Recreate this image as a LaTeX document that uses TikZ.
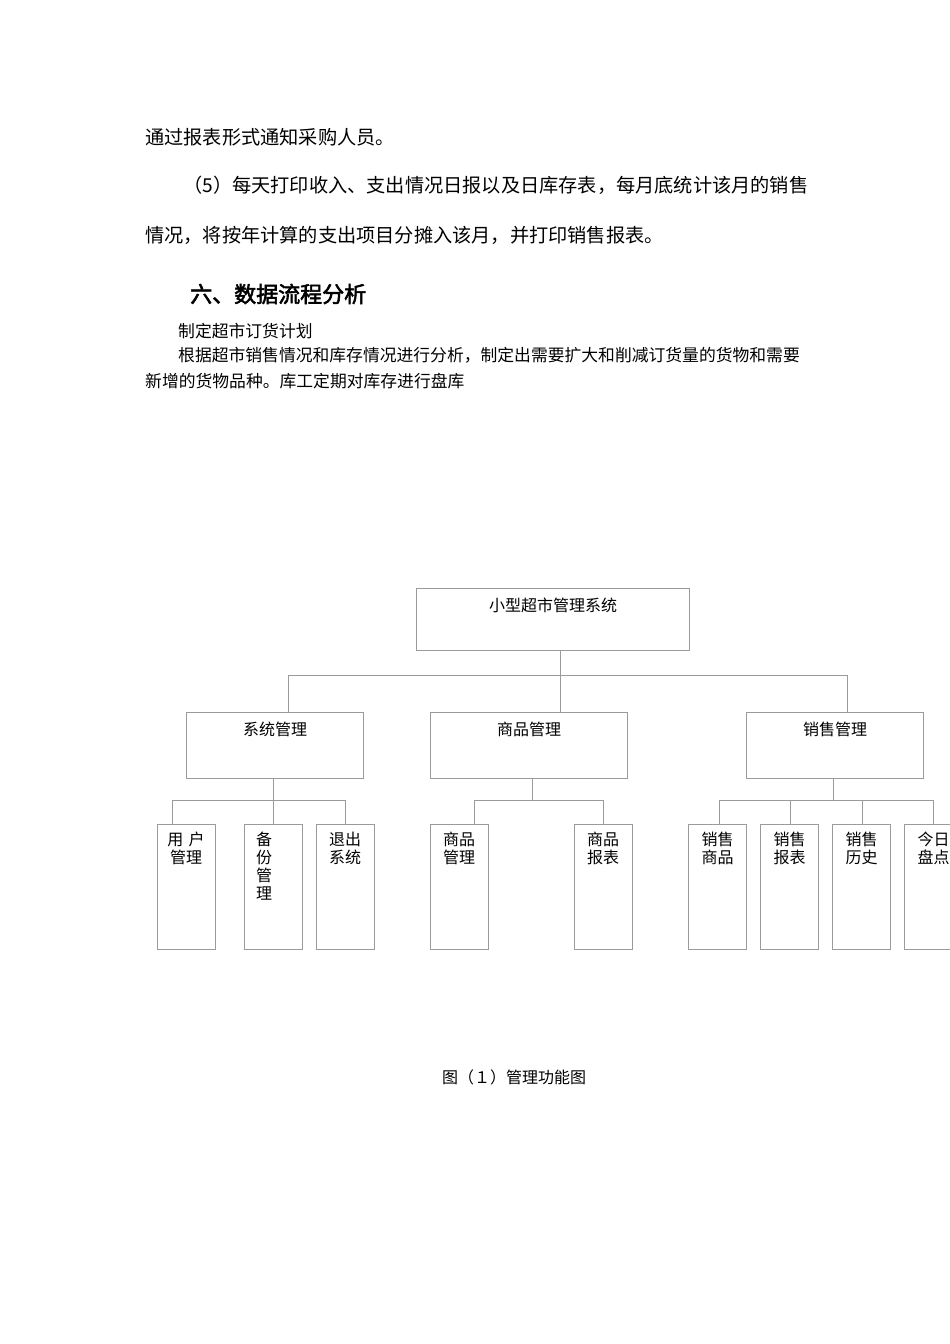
\documentclass[tikz,border=0pt]{standalone}
\usepackage{fontspec}
\setmainfont{Noto Sans CJK SC}
\newfontfamily\cjk{Noto Sans CJK SC}
\newfontfamily\cjkb{Noto Sans CJK SC}[FakeBold=2.5]
\definecolor{lg}{RGB}{155,155,155}
\begin{document}
\begin{tikzpicture}[x=1pt,y=-1pt,
  body/.style={inner sep=0, anchor=west, font=\cjk\fontsize{19.2}{19.2}\selectfont},
  head/.style={inner sep=0, anchor=west, font=\cjkb\fontsize{22}{22}\selectfont},
  small/.style={inner sep=0, anchor=west, font=\cjk\fontsize{16.8}{16.8}\selectfont},
  bx/.style={draw=lg, line width=0.9pt, inner sep=0, rectangle},
  ln/.style={draw=lg, line width=0.9pt},
  lbl/.style={inner sep=0, align=center, font=\cjk\fontsize{16}{18}\selectfont},
  leaf/.style={bx, minimum width=58pt, minimum height=125pt}]
\useasboundingbox (0,0) rectangle (950,1344);
\clip (0,0) rectangle (950,1344);
\fill[white] (0,0) rectangle (950,1344);

% text
\node[body] (p1) at (145,137) {通过报表形式通知采购人员。};
\node[body] (p2) at (183,185) {（5）每天打印收入、支出情况日报以及日库存表，每月底统计该月的销售};
\node[body] (p3) at (145,235) {情况，将按年计算的支出项目分摊入该月，并打印销售报表。};
\node[head] (h) at (190,294) {六、数据流程分析};
\node[small] (q1) at (178,331) {制定超市订货计划};
\node[small] (q2) at (178,355) {根据超市销售情况和库存情况进行分析，制定出需要扩大和削减订货量的货物和需要};
\node[small] (q3) at (145,381) {新增的货物品种。库工定期对库存进行盘库};

% boxes
\node[bx, minimum width=273pt, minimum height=62pt] (top) at (552.5,619) {};
\node[lbl] (topt) at (553,605) {小型超市管理系统};

\node[bx, minimum width=177pt, minimum height=66pt] (s1) at (274.5,745) {};
\node[bx, minimum width=197pt, minimum height=66pt] (s2) at (528.5,745) {};
\node[bx, minimum width=177pt, minimum height=66pt] (s3) at (834.5,745) {};
\node[lbl] (s1t) at (275,729) {系统管理};
\node[lbl] (s2t) at (529,729) {商品管理};
\node[lbl] (s3t) at (835,729) {销售管理};

\node[leaf] (a1) at (186,886.5) {};
\node[leaf] (a2) at (273,886.5) {};
\node[leaf] (a3) at (345,886.5) {};
\node[leaf] (b1) at (459,886.5) {};
\node[leaf] (b2) at (603,886.5) {};
\node[leaf] (c1) at (717.5,886.5) {};
\node[leaf] (c2) at (789.5,886.5) {};
\node[leaf] (c3) at (861.5,886.5) {};
\node[leaf] (c4) at (933.5,886.5) {};

\node[lbl, anchor=north] (a1t) at (186,832) {用\,\,户\\管理};
\node[lbl, anchor=north] (a2t) at (264,832) {备\\份\\管\\理};
\node[lbl, anchor=north] (a3t) at (345,832) {退出\\系统};
\node[lbl, anchor=north] (b1t) at (459,832) {商品\\管理};
\node[lbl, anchor=north] (b2t) at (603,832) {商品\\报表};
\node[lbl, anchor=north] (c1t) at (717.5,832) {销售\\商品};
\node[lbl, anchor=north] (c2t) at (789.5,832) {销售\\报表};
\node[lbl, anchor=north] (c3t) at (861.5,832) {销售\\历史};
\node[lbl, anchor=north] (c4t) at (933.5,832) {今日\\盘点};

% connectors level 1
\coordinate (jM) at (560,675);
\coordinate (jL) at (288,675);
\coordinate (jR) at (847,675);
\draw[ln] (top.south -| jM) -- (s2.north -| jM);
\draw[ln] (s1.north -| jL) -- (jL) -- (jR) -- (s3.north -| jR);

% group 1
\coordinate (kL) at (172,800);
\coordinate (kM) at (273,800);
\coordinate (kR) at (345,800);
\draw[ln] (s1.south -| kM) -- (a2.north -| kM);
\draw[ln] (a1.north -| kL) -- (kL) -- (kR) -- (a3.north -| kR);

% group 2
\coordinate (mL) at (474,800);
\coordinate (mM) at (532,800);
\coordinate (mR) at (603,800);
\draw[ln] (s2.south -| mM) -- (mM);
\draw[ln] (b1.north -| mL) -- (mL) -- (mR) -- (b2.north -| mR);

% group 3
\coordinate (nL) at (719,800);
\coordinate (nM) at (833,800);
\coordinate (n2) at (790,800);
\coordinate (n3) at (862,800);
\coordinate (nR) at (933,800);
\draw[ln] (s3.south -| nM) -- (nM);
\draw[ln] (c1.north -| nL) -- (nL) -- (nR) -- (c4.north -| nR);
\draw[ln] (n2) -- (c2.north -| n2);
\draw[ln] (n3) -- (c3.north -| n3);

% caption
\node[lbl] (cap) at (514,1077) {图（１）管理功能图};
\end{tikzpicture}
\end{document}
